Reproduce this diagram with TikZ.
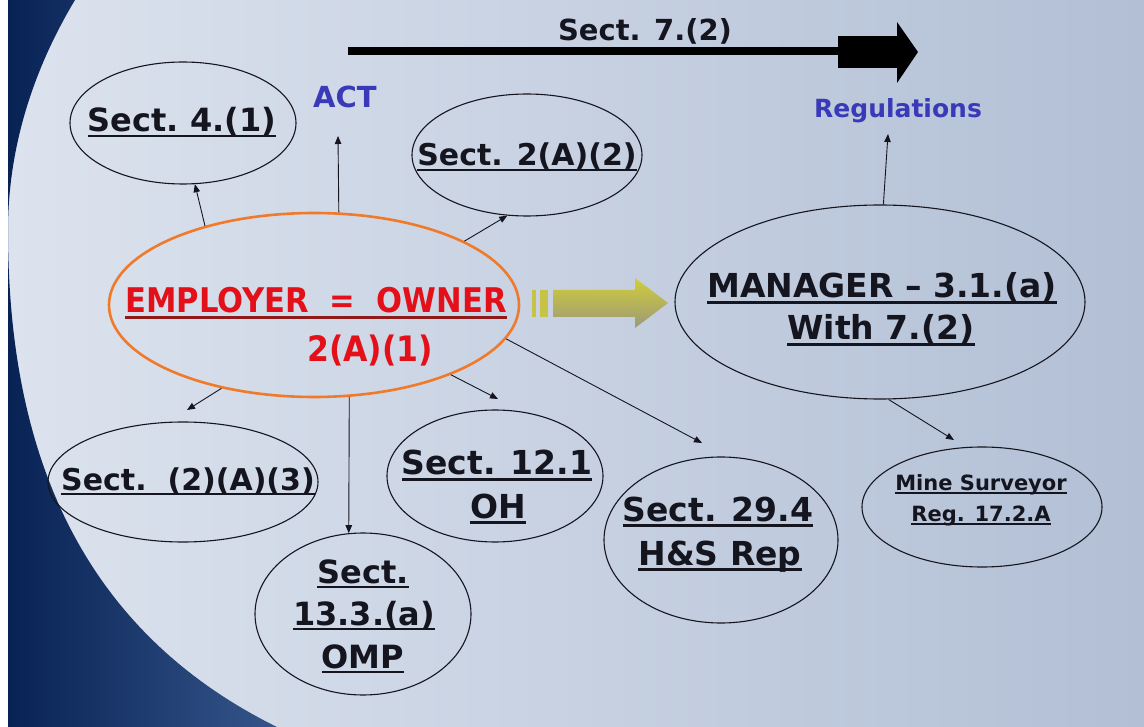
\documentclass[tikz,border=0pt]{standalone}
\usepackage{fontspec}
\setmainfont{DejaVu Sans}
\newfontfamily\condf{DejaVu Sans Condensed}
\usetikzlibrary{shapes.geometric,arrows.meta}
\definecolor{bgL}{HTML}{DCE3EE}
\definecolor{bgR}{HTML}{B2BFD5}
\definecolor{navyA}{HTML}{082254}
\definecolor{navyB}{HTML}{35558A}
\definecolor{ora}{HTML}{F07A2A}
\definecolor{redt}{HTML}{E3101A}
\definecolor{ulred}{HTML}{8E1A1A}
\definecolor{bluet}{HTML}{3A3AB8}
\definecolor{ylA}{HTML}{D0CD3A}
\definecolor{ylB}{HTML}{9C9A78}
\definecolor{inkc}{HTML}{15151F}
\newcommand{\fsz}[1]{\fontsize{#1}{#1}\selectfont\bfseries}
\newcommand{\myulc}[2]{\setbox0=\hbox{#2}\rlap{\color{#1}\vrule width\wd0 height -0.09em depth 0.17em}\box0}
\newcommand{\myul}[1]{\myulc{inkc}{#1}}
\begin{document}
\begin{tikzpicture}[x=1pt,y=-1pt,
  ell/.style={ellipse, draw=inkc, line width=1.1pt, inner sep=0pt},
  conn/.style={draw=inkc, line width=0.9pt, -{Triangle[length=8pt,width=6.5pt]}},
  txt/.style={anchor=base, inner sep=0pt, text=inkc}]
\useasboundingbox (0,0) rectangle (1144,727);
% background
\fill[white] (0,0) rectangle (1144,727);
\shade[left color=bgL, right color=bgR] (8,0) rectangle (1144,727);
\shade[left color=navyA, right color=navyB] (8,0) -- (75,0) .. controls (45,50) and (8,130) .. (8,230) .. controls (8,420) and (60,620) .. (277,727) -- (8,727) -- cycle;

% big arrow Sect. 7.(2)
\coordinate (s7a) at (348,51);
\coordinate (s7b) at (840,51);
\draw[line width=8pt, draw=black] (s7a) -- (s7b);
\fill[black] (838,36) rectangle (897,68);
\fill[black] (897,22) -- (918,52) -- (897,83) -- cycle;
\node[txt] (t7) at (645,41) {\fsz{29}Sect. 7.(2)};

% labels ACT / Regulations
\node[txt, text=bluet] (act) at (345,108) {\fsz{29}ACT};
\node[txt, text=bluet] (reg) at (898,118) {\fsz{25}Regulations};

% ellipses
\node[ell, minimum width=226pt, minimum height=122pt] (s4) at (183,123) {};
\node[ell, minimum width=230pt, minimum height=122pt] (s2) at (527,155) {};
\node[ellipse, draw=ora, line width=2.6pt, inner sep=0pt, minimum width=410pt, minimum height=184pt] (emp) at (314,305) {};
\node[ell, minimum width=410pt, minimum height=194pt] (mgr) at (880,302) {};
\node[ell, minimum width=270pt, minimum height=120pt] (s3) at (183,482) {};
\node[ell, minimum width=216pt, minimum height=162pt] (omp) at (363,614) {};
\node[ell, minimum width=216pt, minimum height=132pt] (oh) at (495,476) {};
\node[ell, minimum width=234pt, minimum height=166pt] (hs) at (721,540) {};
\node[ell, minimum width=240pt, minimum height=120pt] (ms) at (982,507) {};

% texts
\node[txt] (t4) at (182,132) {\fsz{32}\myul{Sect.\ 4.(1)}};
\node[txt] (t2) at (527,166) {\fsz{30}\myul{Sect. 2(A)(2)}};
\node[txt, text=redt] (te1) at (316,313) {\condf\fsz{34}\myulc{ulred}{EMPLOYER\ \ =\ \ OWNER}};
\node[txt, text=redt] (te2) at (370,362) {\condf\fsz{35}2(A)(1)};
\node[txt] (tm1) at (882,298) {\fsz{33}\myul{MANAGER – 3.1.(a)}};
\node[txt] (tm2) at (881,340) {\fsz{33}\myul{With 7.(2)}};
\node[txt] (t3) at (188,490) {\fsz{30}\myul{Sect.\ \ (2)(A)(3)}};
\node[txt] (to1) at (363,583) {\fsz{32}\myul{Sect.}};
\node[txt] (to2) at (364,625) {\fsz{32}\myul{13.3.(a)}};
\node[txt] (to3) at (363,668) {\fsz{32}\myul{OMP}};
\node[txt] (th1) at (497,475) {\fsz{33}\myul{Sect. 12.1}};
\node[txt] (th2) at (498,518) {\fsz{33}\myul{OH}};
\node[txt] (tr1) at (718,521) {\fsz{33}\myul{Sect. 29.4}};
\node[txt] (tr2) at (720,565) {\fsz{33}\myul{H\&S Rep}};
\node[txt] (tv1) at (981,490) {\fsz{21}\myul{Mine Surveyor}};
\node[txt] (tv2) at (981,521) {\fsz{21}\myul{Reg. 17.2.A}};

% yellow arrow
\fill[ylA!80!ylB] (532,290) rectangle (536,317);
\fill[ylA!80!ylB] (540,290) rectangle (548,317);
\shade[top color=ylA, bottom color=ylB] (553,290) -- (635,290) -- (635,278) -- (668,303) -- (635,328) -- (635,317) -- (553,317) -- cycle;

% free connector ends
\coordinate (eAct) at (338,136);
\coordinate (eBL) at (187,410);
\coordinate (eBR) at (498,399);
\coordinate (eHS) at (702,443);
\coordinate (eReg) at (888,134);
\coordinate (eMS) at (954,440);

% connectors
\draw[conn] (emp.144) -- (s4.-79);
\draw[conn] (emp.75) -- (eAct);
\draw[conn] (emp.23) -- (s2.-108);
\draw[conn] (emp.-138) -- (eBL);
\draw[conn] (emp.-69.4) -- (omp.100.6);
\draw[conn] (emp.-27) -- (eBR);
\draw[conn] (emp.-10) -- (eHS);
\draw[conn] (mgr.88) -- (eReg);
\draw[conn] (mgr.-85) -- (eMS);
\end{tikzpicture}
\end{document}
